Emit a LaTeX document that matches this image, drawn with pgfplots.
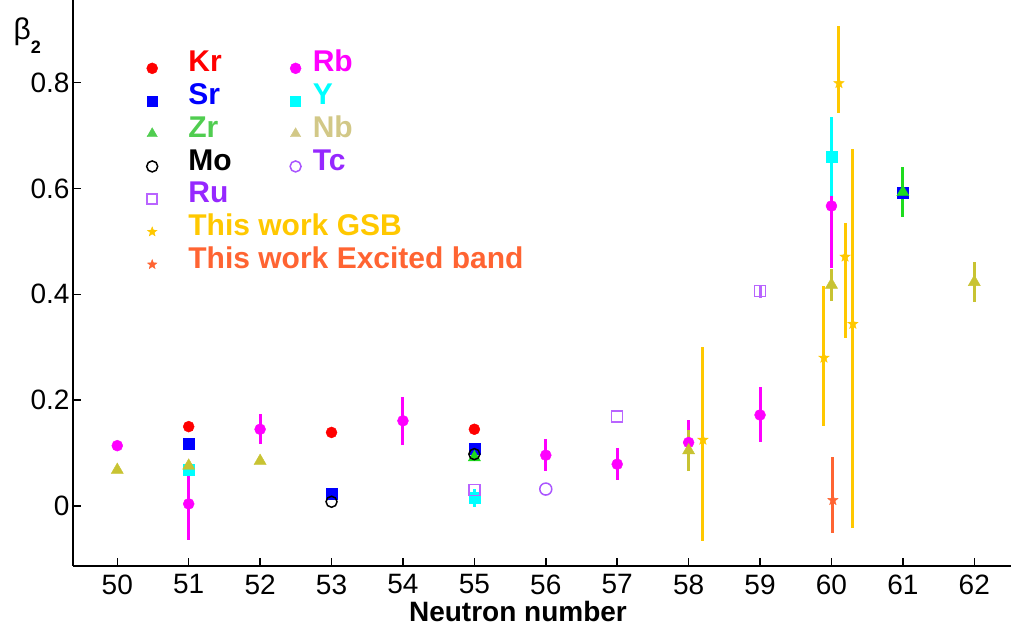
\documentclass[border=0pt]{standalone}
\usepackage{fontspec}
\setmainfont{Liberation Sans}
\usepackage{pgfplots}
\pgfplotsset{compat=1.18}

% filled five-pointed star
\pgfdeclareplotmark{fstar}{%
  \pgfpathmoveto{\pgfpointpolar{90}{\pgfplotmarksize}}%
  \pgfpathlineto{\pgfpointpolar{126}{0.42\pgfplotmarksize}}%
  \pgfpathlineto{\pgfpointpolar{162}{\pgfplotmarksize}}%
  \pgfpathlineto{\pgfpointpolar{198}{0.42\pgfplotmarksize}}%
  \pgfpathlineto{\pgfpointpolar{234}{\pgfplotmarksize}}%
  \pgfpathlineto{\pgfpointpolar{270}{0.42\pgfplotmarksize}}%
  \pgfpathlineto{\pgfpointpolar{306}{\pgfplotmarksize}}%
  \pgfpathlineto{\pgfpointpolar{342}{0.42\pgfplotmarksize}}%
  \pgfpathlineto{\pgfpointpolar{18}{\pgfplotmarksize}}%
  \pgfpathlineto{\pgfpointpolar{54}{0.42\pgfplotmarksize}}%
  \pgfpathclose
  \pgfusepathqfillstroke}

\definecolor{cKr}{RGB}{255,0,0}
\definecolor{cRb}{RGB}{255,0,255}
\definecolor{cSr}{RGB}{0,0,255}
\definecolor{cY}{RGB}{0,255,255}
\definecolor{cZr}{RGB}{30,220,30}
\definecolor{cZrT}{RGB}{80,205,80}
\definecolor{cNb}{RGB}{200,195,50}
\definecolor{cNbT}{RGB}{210,200,135}
\definecolor{cTc}{RGB}{170,85,255}
\definecolor{cRu}{RGB}{185,100,255}
\definecolor{cPur}{RGB}{150,40,255}
\definecolor{cGSB}{RGB}{255,200,0}
\definecolor{cEx}{RGB}{255,100,50}

\newcommand{\cA}[2]{\makebox[97pt][l]{\textcolor{#1}{#2}}}

\begin{document}
\begin{tikzpicture}
\begin{axis}[
  scale only axis, width=938pt, height=566pt,
  xmin=49.38, xmax=62.514, ymin=-0.1134, ymax=0.9563,
  axis lines*=left,
  axis line style={line width=2.2pt},
  tick align=inside, major tick length=8pt,
  tick style={line width=1.5pt, black},
  xtick={50,51,...,62}, ytick={0,0.2,0.4,0.6,0.8},
  /pgf/number format/assume math mode=true,
  ticklabel style={font=\fontsize{28}{32}\selectfont},
  xticklabel style={yshift=-5pt},
  xlabel={Neutron number},
  every axis x label/.style={at={(axis description cs:0.4744,0)}, anchor=base,
    yshift=-56pt, font=\fontsize{28}{32}\selectfont\bfseries},
  clip=false,
  legend image code/.code={\path (-10pt,0pt) (10pt,0pt);
    \draw[#1] plot coordinates {(0pt,-2pt)};},
  legend columns=2,
  legend cell align=left,
  legend style={draw=none, fill=none, inner sep=0pt, outer sep=0pt,
    at={(axis description cs:0.07356,0.91166)}, anchor=north west,
    font=\fontsize{30}{33}\selectfont\bfseries,
    nodes={inner sep=0pt, text height=22pt, text depth=10.7pt},
    column sep=0pt, row sep=0pt,
    /tikz/column 1/.style={column sep=26pt},
    /tikz/column 3/.style={column sep=7pt}},
  errs/.style={error bars/.cd, y dir=both, y explicit, error mark=none,
    error bar style={line width=3pt}},
]

% Kr
\addplot[forget plot, only marks, mark=*, cKr, mark size=5.5pt] table {
x y
51 0.150
53 0.139
55 0.145
};
% Rb
\addplot[forget plot, only marks, mark=*, cRb, mark size=5.5pt, errs]
  table[x=x, y=y, y error plus=ep, y error minus=em] {
x y ep em
50 0.114 0 0
51 0.004 0.068 0.068
52 0.145 0.028 0.028
54 0.161 0.045 0.045
56 0.096 0.030 0.030
57 0.079 0.030 0.030
58 0.120 0.043 0.043
59 0.172 0.052 0.052
60 0.567 0.117 0.117
};
% Sr
\addplot[forget plot, only marks, mark=square*, cSr, mark size=5.5pt] table {
x y
51 0.117
53 0.024
55 0.109
61 0.593
};
% Y
\addplot[forget plot, only marks, mark=square*, cY, mark size=5.5pt, errs]
  table[x=x, y=y, y error plus=ep, y error minus=em] {
x y ep em
51 0.068 0 0
55 0.015 0.017 0.017
60 0.660 0.075 0.075
};
% Zr
\addplot[forget plot, only marks, mark=triangle*, cZr, mark size=7pt, errs]
  table[x=x, y=y, y error plus=ep, y error minus=em] {
x y ep em
55 0.092 0 0
61 0.593 0.047 0.047
};
% Nb
\addplot[forget plot, only marks, mark=triangle*, cNb, mark size=7pt, errs]
  table[x=x, y=y, y error plus=ep, y error minus=em] {
x y ep em
50 0.068 0 0
51 0.076 0 0
52 0.085 0 0
58 0.105 0.039 0.039
60 0.418 0.030 0.030
62 0.423 0.038 0.038
};
% Mo
\addplot[forget plot, only marks, mark=o, black, mark size=5.5pt,
  mark options={line width=1.5pt}] table {
x y
53 0.008
55 0.098
};
% Tc
\addplot[forget plot, only marks, mark=o, cTc, mark size=6pt,
  mark options={line width=1.5pt}] table {
x y
56 0.032
};
% Ru
\addplot[forget plot, only marks, mark=square, cRu, mark size=5.5pt,
  mark options={line width=1.5pt}, errs]
  table[x=x, y=y, y error plus=ep, y error minus=em] {
x y ep em
55 0.030 0 0
57 0.169 0 0
59 0.406 0.012 0.012
};
% This work GSB
\addplot[forget plot, only marks, mark=fstar, cGSB, mark size=5.5pt, errs]
  table[x=x, y=y, y error plus=ep, y error minus=em] {
x y ep em
58.20 0.125 0.175 0.191
59.895 0.280 0.136 0.129
60.105 0.799 0.108 0.056
60.19 0.471 0.064 0.153
60.30 0.344 0.331 0.386
};
% This work excited band
\addplot[forget plot, only marks, mark=fstar, cEx, mark size=5.5pt, errs]
  table[x=x, y=y, y error plus=ep, y error minus=em] {
x y ep em
60.02 0.011 0.082 0.062
};

% legend
\addlegendimage{mark=*, cKr, mark size=5.5pt}
\addlegendentry{\cA{cKr}{Kr}}
\addlegendimage{mark=*, cRb, mark size=5.5pt}
\addlegendentry{\textcolor{cRb}{Rb}}
\addlegendimage{mark=square*, cSr, mark size=5pt}
\addlegendentry{\cA{cSr}{Sr}}
\addlegendimage{mark=square*, cY, mark size=5pt}
\addlegendentry{\textcolor{cY}{Y}}
\addlegendimage{mark=triangle*, cZrT, mark size=6pt}
\addlegendentry{\cA{cZrT}{Zr}}
\addlegendimage{mark=triangle*, cNbT, mark size=6pt}
\addlegendentry{\textcolor{cNbT}{Nb}}
\addlegendimage{mark=o, black, mark size=5.5pt, mark options={line width=1.5pt}}
\addlegendentry{\cA{black}{Mo}}
\addlegendimage{mark=o, cTc, mark size=5.5pt, mark options={line width=1.5pt}}
\addlegendentry{\textcolor{cPur}{Tc}}
\addlegendimage{mark=square, cRu, mark size=5pt, mark options={line width=1.5pt}}
\addlegendentry{\cA{cPur}{Ru}}
\addlegendimage{empty legend}
\addlegendentry{}
\addlegendimage{mark=fstar, cGSB, mark size=5pt}
\addlegendentry{\cA{cGSB}{This work GSB}}
\addlegendimage{empty legend}
\addlegendentry{}
\addlegendimage{mark=fstar, cEx, mark size=5pt}
\addlegendentry{\cA{cEx}{This work Excited band}}

\node[anchor=base west, xshift=-63pt, yshift=-40pt,
  font=\fontsize{30}{32}\selectfont] at (rel axis cs:0,1)
  {β\raisebox{-14pt}{\fontsize{18}{20}\selectfont\bfseries 2}};
\end{axis}
\pgfresetboundingbox
\path (current axis.south west) ++(-73pt,-68pt) rectangle (current axis.north east);
\end{tikzpicture}
\end{document}
